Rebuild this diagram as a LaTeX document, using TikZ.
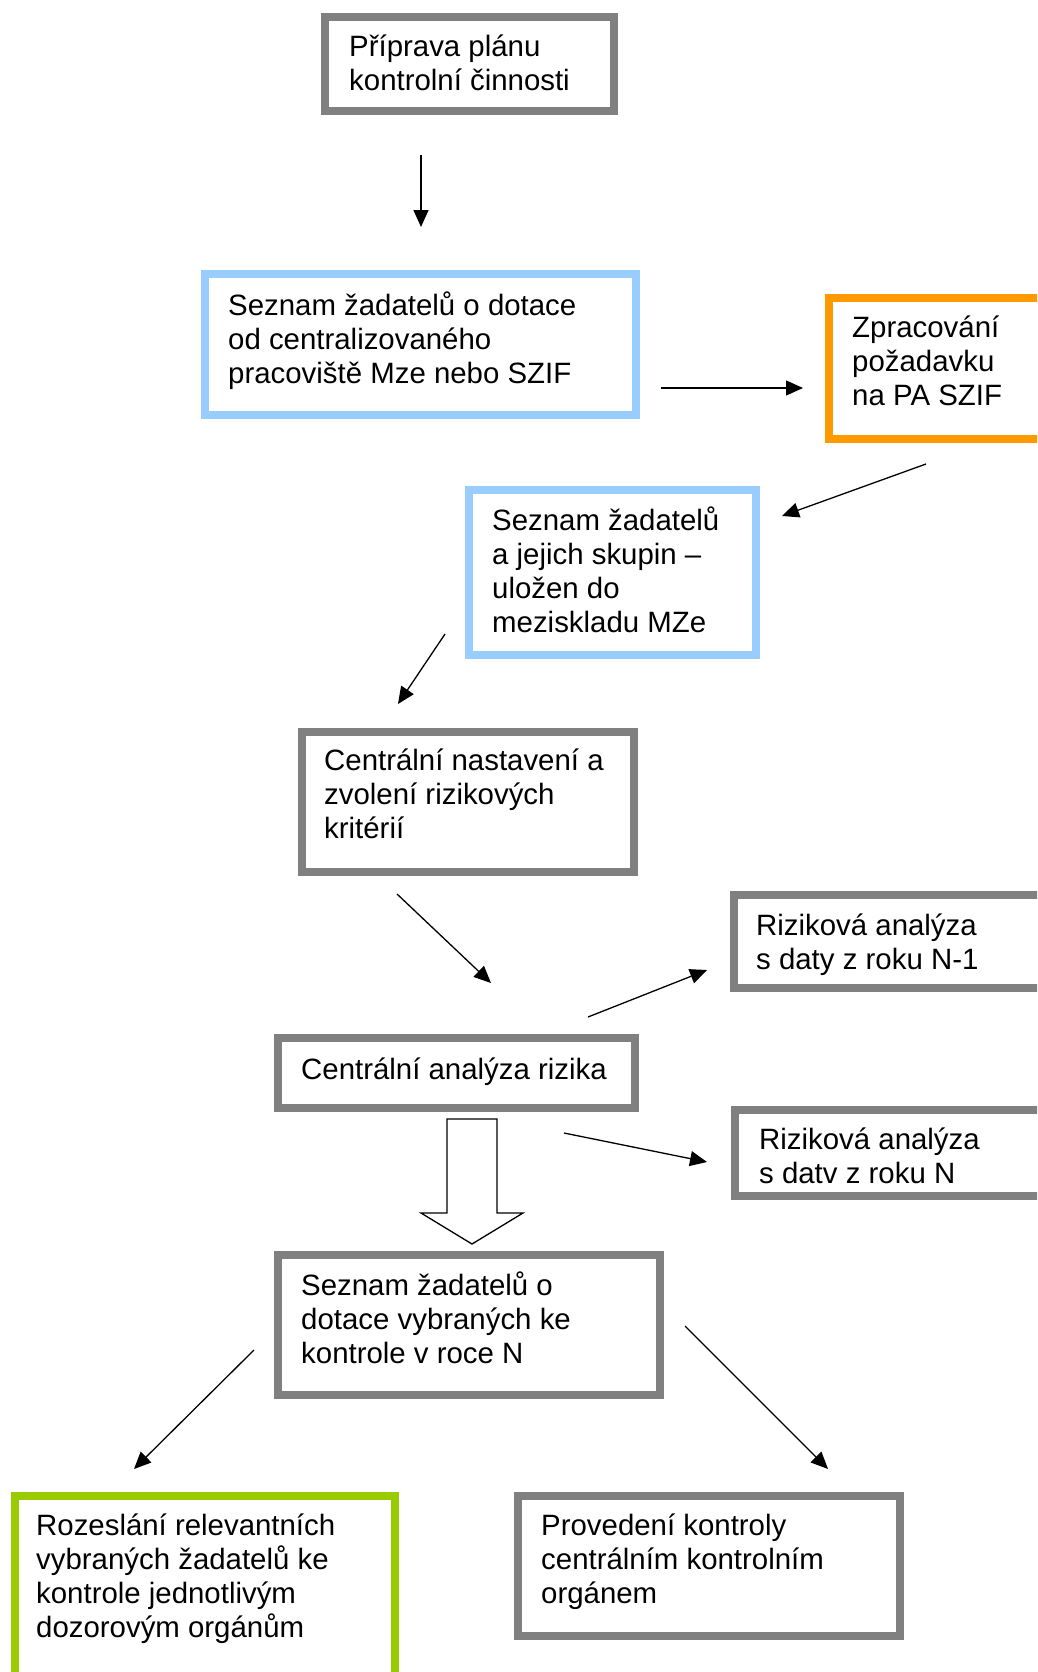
\documentclass[tikz,border=0pt]{standalone}
\usepackage{fontspec}
\setmainfont{Liberation Sans}
\usetikzlibrary{arrows.meta,calc}

\definecolor{frgray}{HTML}{808080}
\definecolor{frblue}{HTML}{99CCFF}
\definecolor{frorange}{HTML}{FF9900}
\definecolor{frgreen}{HTML}{99CC00}

\tikzset{
  box/.style={draw, line width=8pt, fill=white, inner sep=0pt},
  graybox/.style={box, draw=frgray},
  bluebox/.style={box, draw=frblue},
  orangebox/.style={box, draw=frorange},
  greenbox/.style={box, draw=frgreen},
  label text/.style={anchor=base west, inner sep=0pt, font=\fontsize{29.4}{34}\selectfont},
  arr/.style={-{Triangle[length=17pt,width=15pt]}, line width=1.3pt},
}

% place a framed box from its outer corners: name, style, left, top, right, bottom
\newcommand{\framedbox}[6]{%
  \node[#2, minimum width={#5-#3-8pt}, minimum height={#6-#4-8pt}]
    (#1) at ({(#3+#5)/2},{(#4+#6)/2}) {};}

\begin{document}
\begin{tikzpicture}[x=1pt,y=-1pt]
\useasboundingbox (0,0) rectangle (1037,1672);
\clip (0,0) rectangle (1037,1672);

% boxes
\framedbox{plan}{graybox}{321}{13}{618}{115}
\framedbox{seznam}{bluebox}{201}{270}{640}{419}
\framedbox{pa}{orangebox}{825}{294}{1080}{443}
\framedbox{mezisklad}{bluebox}{465}{486}{760}{659}
\framedbox{krit}{graybox}{298}{728}{638}{876}
\framedbox{raold}{graybox}{730}{891}{1080}{992}
\framedbox{car}{graybox}{274}{1034}{639}{1112}
\framedbox{ranew}{graybox}{731}{1106}{1080}{1200}
\framedbox{vyber}{graybox}{274}{1251}{664}{1399}
\framedbox{rozes}{greenbox}{11}{1492}{399}{1720}
\framedbox{proved}{graybox}{514}{1492}{904}{1640}

% box texts
\node[label text] (t-plan) at ($(plan.north west)+(28,44)$)
  {\vtop{\hbox{Příprava plánu}\hbox{kontrolní činnosti}}};
\node[label text] (t-seznam) at ($(seznam.north west)+(27,45)$)
  {\vtop{\hbox{Seznam žadatelů o dotace}\hbox{od centralizovaného}\hbox{pracoviště Mze nebo SZIF}}};
\node[label text] (t-pa) at ($(pa.north west)+(27,43)$)
  {\vtop{\hbox{Zpracování}\hbox{požadavku}\hbox{na PA SZIF}}};
\node[label text] (t-mezisklad) at ($(mezisklad.north west)+(27,44)$)
  {\vtop{\hbox{Seznam žadatelů}\hbox{a jejich skupin –}\hbox{uložen do}\hbox{meziskladu MZe}}};
\node[label text] (t-krit) at ($(krit.north west)+(26,42)$)
  {\vtop{\hbox{Centrální nastavení a}\hbox{zvolení rizikových}\hbox{kritérií}}};
\node[label text] (t-raold) at ($(raold.north west)+(26,44)$)
  {\vtop{\hbox{Riziková analýza}\hbox{s daty z roku N-1}}};
\node[label text] (t-car) at ($(car.north west)+(27,45)$)
  {Centrální analýza rizika};
\node[label text] (t-ranew) at ($(ranew.north west)+(28,43)$)
  {\vtop{\hbox{Riziková analýza}\hbox{s datv z roku N}}};
\node[label text] (t-vyber) at ($(vyber.north west)+(27,44)$)
  {\vtop{\hbox{Seznam žadatelů o}\hbox{dotace vybraných ke}\hbox{kontrole v roce N}}};
\node[label text] (t-rozes) at ($(rozes.north west)+(25,43)$)
  {\vtop{\hbox{Rozeslání relevantních}\hbox{vybraných žadatelů ke}\hbox{kontrole jednotlivým}\hbox{dozorovým orgánům}}};
\node[label text] (t-proved) at ($(proved.north west)+(27,43)$)
  {\vtop{\hbox{Provedení kontroly}\hbox{centrálním kontrolním}\hbox{orgánem}}};

% free arrow ends
\coordinate (a1s) at (421,155);  \coordinate (a1e) at (421,227);
\coordinate (a2s) at (661,388);  \coordinate (a2e) at (803,388);
\coordinate (a3s) at (926,464);  \coordinate (a3e) at (782,516);
\coordinate (a4s) at (445,634);  \coordinate (a4e) at (398,704);
\coordinate (a5s) at (397,894);  \coordinate (a5e) at (491,983);
\coordinate (a6s) at (588,1017); \coordinate (a6e) at (707,970);
\coordinate (a7s) at (564,1133); \coordinate (a7e) at (707,1162);
\coordinate (a8s) at (254,1350); \coordinate (a8e) at (134,1469);
\coordinate (a9s) at (685,1326); \coordinate (a9e) at (828,1469);

\draw[arr] (a1s) -- (a1e);
\draw[arr] (a2s) -- (a2e);
\draw[arr] (a3s) -- (a3e);
\draw[arr] (a4s) -- (a4e);
\draw[arr] (a5s) -- (a5e);
\draw[arr] (a6s) -- (a6e);
\draw[arr] (a7s) -- (a7e);
\draw[arr] (a8s) -- (a8e);
\draw[arr] (a9s) -- (a9e);

% hollow block arrow from the risk analysis down to the selection list
\coordinate (bt) at (472,1119);
\coordinate (bp) at (472,1244);
\draw[line width=1.3pt, fill=white]
  ($(bt)+(-25,0)$) -- ($(bt)+(25,0)$) -- ($(bp)+(25,-31)$) -- ($(bp)+(51,-31)$)
  -- (bp) -- ($(bp)+(-51,-31)$) -- ($(bp)+(-25,-31)$) -- cycle;
\end{tikzpicture}
\end{document}
